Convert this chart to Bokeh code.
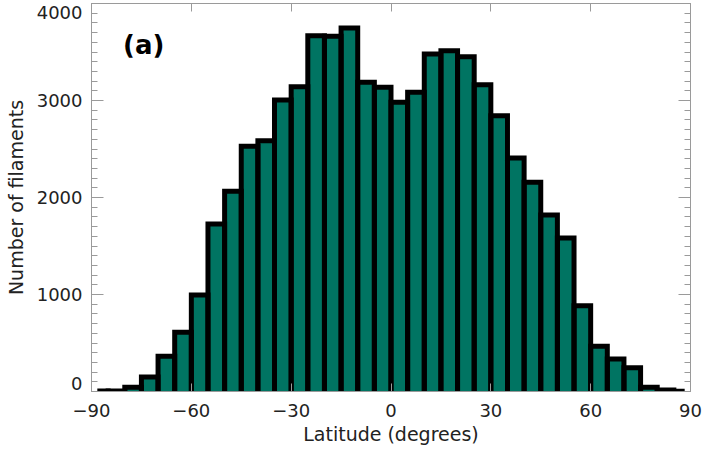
from bokeh.embed import file_html
from bokeh.models import FixedTicker, Label, LinearAxis, Range1d
from bokeh.plotting import figure
from bokeh.resources import INLINE

# Histogram of filament latitudes, 5 degree bins (outer bins half width)
bin_edges = [-87.5] + list(range(-85, 90, 5)) + [87.5]
counts = [4, 6, 45, 150, 363, 610, 995, 1727, 2064, 2528, 2586, 3005,
          3142, 3668, 3662, 3748, 3188, 3136, 2982, 3085, 3480, 3514,
          3452, 3163, 2843, 2407, 2157, 1820, 1583, 885, 466, 335,
          245, 43, 15, 3]

x_ticks = [-90, -60, -30, 0, 30, 60, 90]
x_tick_labels = ["\u221290", "\u221260", "\u221230", "0", "30", "60", "90"]
y_ticks = [0, 1000, 2000, 3000, 4000]
y_tick_labels = ["0", "1000", "2000", "3000", "4000"]
y_minor = list(range(0, 4001, 100))

x_title = "Latitude (degrees)"
y_title = "Number of filaments"
panel_tag = "(a)"

FONT = "DejaVu Sans"
TXT = "#222222"
GREY = "#9a9a9a"
FILL = "#007462"

W, H = 705, 451
LEFT, RIGHT, TOP, BOTTOM = 91, 15, 3, 60
frame_h = H - TOP - BOTTOM

p = figure(width=W, height=H,
           x_range=Range1d(-90, 90), y_range=Range1d(0, 4000),
           output_backend="svg", toolbar_location=None,
           min_border_left=LEFT, min_border_right=RIGHT,
           min_border_top=TOP, min_border_bottom=BOTTOM)
p.xgrid.visible = False
p.ygrid.visible = False
p.outline_line_color = GREY

# bars
lefts = bin_edges[:-1]
rights = bin_edges[1:]
p.quad(left=lefts, right=rights, bottom=0, top=counts,
       fill_color=FILL, line_color=None)
xs = [[l, l, r, r] for l, r in zip(lefts, rights)]
ys = [[0, c, c, 0] for c in counts]
p.multi_line(xs, ys, line_color="black", line_width=5,
             line_join="miter", line_cap="butt")

# bottom axis
xa = p.xaxis[0]
xa.ticker = FixedTicker(ticks=x_ticks)
xa.major_label_overrides = dict(zip(x_ticks, x_tick_labels))
xa.axis_line_color = GREY
xa.major_tick_line_color = GREY
xa.major_tick_in = 8
xa.major_tick_out = 0
xa.minor_tick_in = 0
xa.minor_tick_out = 0
xa.major_label_standoff = 12
xa.major_label_text_font = FONT
xa.major_label_text_font_size = "18px"
xa.major_label_text_color = TXT
xa.axis_label = x_title
xa.axis_label_standoff = 3
xa.axis_label_text_font = FONT
xa.axis_label_text_font_size = "19px"
xa.axis_label_text_font_style = "normal"
xa.axis_label_text_color = TXT

# left axis: tick marks only
ya = p.yaxis[0]
ya.ticker = FixedTicker(ticks=y_ticks, minor_ticks=y_minor)
ya.major_label_overrides = {t: "" for t in y_ticks}
ya.major_label_standoff = 0
ya.axis_line_color = GREY
ya.major_tick_line_color = GREY
ya.minor_tick_line_color = GREY
ya.major_tick_in = 12
ya.major_tick_out = 0
ya.minor_tick_in = 6
ya.minor_tick_out = 0

# left labels: the end labels sit a little inside the frame
per_px = 4000 / frame_h
label_pos = list(y_ticks)
label_pos[0] = int(round(y_ticks[0] + 8 * per_px))
label_pos[-1] = int(round(y_ticks[-1] - 9 * per_px))
lab = LinearAxis(ticker=FixedTicker(ticks=label_pos),
                 major_label_overrides=dict(zip(label_pos, y_tick_labels)),
                 axis_line_color=None, major_tick_line_color=None,
                 minor_tick_line_color=None,
                 major_tick_in=0, major_tick_out=0,
                 minor_tick_in=0, minor_tick_out=0,
                 major_label_standoff=9,
                 major_label_text_font=FONT,
                 major_label_text_font_size="18px",
                 major_label_text_color=TXT,
                 axis_label=y_title, axis_label_standoff=7,
                 axis_label_text_font=FONT,
                 axis_label_text_font_size="19px",
                 axis_label_text_font_style="normal",
                 axis_label_text_color=TXT)
p.add_layout(lab, "left")

# top and right frame ticks
top = LinearAxis(ticker=FixedTicker(ticks=x_ticks),
                 major_label_overrides={t: "" for t in x_ticks},
                 major_label_standoff=0,
                 axis_line_color=GREY, major_tick_line_color=GREY,
                 major_tick_in=8, major_tick_out=0,
                 minor_tick_in=0, minor_tick_out=0)
p.add_layout(top, "above")
right = LinearAxis(ticker=FixedTicker(ticks=y_ticks, minor_ticks=y_minor),
                   major_label_overrides={t: "" for t in y_ticks},
                   major_label_standoff=0,
                   axis_line_color=GREY, major_tick_line_color=GREY,
                   minor_tick_line_color=GREY,
                   major_tick_in=12, major_tick_out=0,
                   minor_tick_in=6, minor_tick_out=0)
p.add_layout(right, "right")

p.add_layout(Label(x=-80.5, y=3570, text=panel_tag,
                   text_align="left", text_baseline="middle",
                   text_font=FONT, text_font_size="26px",
                   text_font_style="bold", text_color="black"))

open("out.html", "w").write(file_html(p, INLINE))
